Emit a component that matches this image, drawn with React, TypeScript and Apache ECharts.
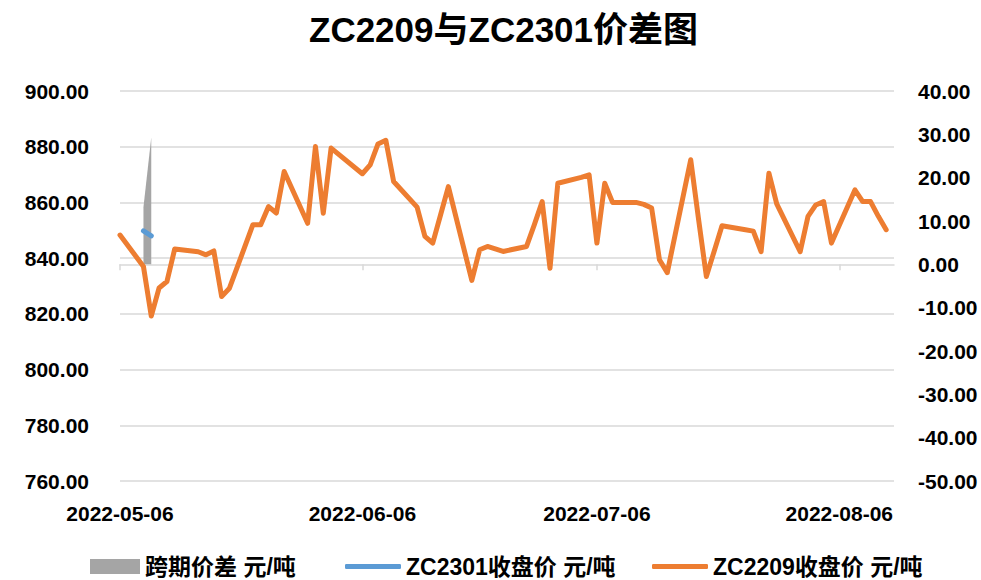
import React, { useEffect, useRef } from "react";
import * as echarts from "echarts";

// ---- data ----
const axisStart = "2022-05-06";
const axisEnd = "2022-08-13";
const xLabelDates = ["2022-05-06", "2022-06-06", "2022-07-06", "2022-08-06"];

const zc2209Dates = [
  "2022-05-06", "2022-05-09", "2022-05-10", "2022-05-11", "2022-05-12", "2022-05-13",
  "2022-05-16", "2022-05-17", "2022-05-18", "2022-05-19", "2022-05-20",
  "2022-05-23", "2022-05-24", "2022-05-25", "2022-05-26", "2022-05-27",
  "2022-05-30", "2022-05-31", "2022-06-01", "2022-06-02",
  "2022-06-06", "2022-06-07", "2022-06-08", "2022-06-09", "2022-06-10",
  "2022-06-13", "2022-06-14", "2022-06-15", "2022-06-16", "2022-06-17",
  "2022-06-20", "2022-06-21", "2022-06-22", "2022-06-23", "2022-06-24",
  "2022-06-27", "2022-06-28", "2022-06-29", "2022-06-30", "2022-07-01",
  "2022-07-04", "2022-07-05", "2022-07-06", "2022-07-07", "2022-07-08",
  "2022-07-11", "2022-07-12", "2022-07-13", "2022-07-14", "2022-07-15",
  "2022-07-18", "2022-07-19", "2022-07-20", "2022-07-21", "2022-07-22",
  "2022-07-25", "2022-07-26", "2022-07-27", "2022-07-28", "2022-07-29",
  "2022-08-01", "2022-08-02", "2022-08-03", "2022-08-04", "2022-08-05",
  "2022-08-08", "2022-08-09", "2022-08-10", "2022-08-11", "2022-08-12",
];
const zc2209Close = [
  848.3, 837.0, 819.2, 829.3, 831.6, 843.3,
  842.3, 841.2, 842.6, 826.2, 829.2,
  852.0, 852.0, 858.5, 856.2, 871.1,
  852.5, 880.1, 856.1, 879.5,
  870.3, 873.5, 881.0, 882.3, 867.5,
  858.3, 847.8, 845.4, 855.5, 865.7,
  832.0, 843.0, 844.2, 843.3, 842.4,
  844.2, 852.0, 860.3, 836.4, 866.9,
  869.0, 869.9, 845.4, 866.9, 860.0,
  860.0, 859.3, 858.0, 839.4, 834.8,
  875.3, 854.0, 833.4, 842.5, 851.6,
  850.2, 849.7, 842.3, 870.5, 859.5,
  842.3, 855.0, 859.1, 860.3, 845.4,
  864.5, 860.3, 860.3, 855.0, 850.2,
];

const zc2301Dates = ["2022-05-09", "2022-05-10"];
const zc2301Close = [849.8, 848.0];

const spreadDates = ["2022-05-09", "2022-05-10"];
const spreadValues = [13.2, 29.3];

const leftMin = 760, leftMax = 900, leftStep = 20;
const rightMin = -50, rightMax = 40, rightStep = 10;

const nameSpread = "跨期价差 元/吨";
const name2301 = "ZC2301收盘价 元/吨";
const name2209 = "ZC2209收盘价 元/吨";
const titleText = "ZC2209与ZC2301价差图";

// ---- helpers ----
function buildCalendar(start: string, end: string): string[] {
  const out: string[] = [];
  const d = new Date(start + "T00:00:00Z");
  const e = new Date(end + "T00:00:00Z");
  while (d.getTime() <= e.getTime()) {
    out.push(d.toISOString().slice(0, 10));
    d.setUTCDate(d.getUTCDate() + 1);
  }
  return out;
}
function alignTo(cats: string[], dates: string[], vals: number[]) {
  const m = new Map<string, number>();
  dates.forEach((d, i) => m.set(d, vals[i]));
  return cats.map((c) => (m.has(c) ? m.get(c)! : null));
}

const FONT = "'Liberation Sans', 'Noto Sans CJK SC', sans-serif";

export default function App() {
  const ref = useRef<HTMLDivElement>(null);
  useEffect(() => {
    if (!ref.current) return;
    const chart = echarts.init(ref.current, undefined, { renderer: "svg" });
    const cats = buildCalendar(axisStart, axisEnd);
    const showDate = (_i: number, v: string) => xLabelDates.includes(v);
    const legendText = { fontFamily: FONT, fontWeight: "bold" as const, fontSize: 23, color: "#000" };
    chart.setOption({
      animation: false,
      backgroundColor: "#fff",
      title: {
        text: titleText,
        left: 304,
        top: 7,
        textStyle: { fontFamily: FONT, fontWeight: "bold", fontSize: 35, color: "#000" },
      },
      grid: { left: 120, right: 87, top: 91, bottom: 99, containLabel: false },
      legend: [
        {
          data: [{ name: nameSpread, icon: "rect" }],
          left: 90, top: 555, padding: 0, itemWidth: 50, itemHeight: 15,
          selectedMode: false, textStyle: legendText,
        },
        {
          data: [{ name: name2301, icon: "roundRect" }],
          left: 345, top: 555, padding: 0, itemWidth: 56, itemHeight: 5,
          selectedMode: false, textStyle: legendText,
        },
        {
          data: [{ name: name2209, icon: "roundRect" }],
          left: 652, top: 555, padding: 0, itemWidth: 56, itemHeight: 5,
          selectedMode: false, textStyle: legendText,
        },
      ],
      xAxis: {
        type: "category",
        data: cats,
        boundaryGap: false,
        axisLine: { lineStyle: { color: "#d9d9d9", width: 1.5 } },
        axisTick: { show: true, interval: showDate, length: 6, lineStyle: { color: "#d9d9d9", width: 1.5 } },
        axisLabel: {
          interval: showDate,
          margin: 22,
          fontFamily: FONT, fontWeight: "bold", fontSize: 21, color: "#000",
        },
        splitLine: { show: false },
      },
      yAxis: [
        {
          type: "value",
          min: leftMin, max: leftMax, interval: leftStep,
          axisLine: { show: false }, axisTick: { show: false },
          axisLabel: {
            margin: 31,
            formatter: (v: number) => v.toFixed(2),
            fontFamily: FONT, fontWeight: "bold", fontSize: 21, color: "#000",
          },
          splitLine: { lineStyle: { color: "#d9d9d9", width: 1.5 } },
        },
        {
          type: "value",
          min: rightMin, max: rightMax, interval: rightStep,
          axisLine: { show: false }, axisTick: { show: false },
          axisLabel: {
            margin: 24,
            formatter: (v: number) => v.toFixed(2),
            fontFamily: FONT, fontWeight: "bold", fontSize: 21, color: "#000",
          },
          splitLine: { show: false },
        },
      ],
      series: [
        {
          name: nameSpread,
          type: "line",
          yAxisIndex: 1,
          data: alignTo(cats, spreadDates, spreadValues),
          symbol: "none",
          connectNulls: false,
          color: "#A5A5A5",
          itemStyle: { color: "#A5A5A5" },
          lineStyle: { width: 0, color: "#A5A5A5" },
          areaStyle: { color: "#A5A5A5", opacity: 1, origin: "auto" },
          z: 1,
        },
        {
          name: name2301,
          type: "line",
          yAxisIndex: 0,
          data: alignTo(cats, zc2301Dates, zc2301Close),
          symbol: "none",
          color: "#5B9BD5",
          itemStyle: { color: "#5B9BD5" },
          lineStyle: { width: 5, color: "#5B9BD5", cap: "round", join: "round" },
          z: 2,
        },
        {
          name: name2209,
          type: "line",
          yAxisIndex: 0,
          data: alignTo(cats, zc2209Dates, zc2209Close),
          symbol: "none",
          connectNulls: true,
          color: "#ED7D31",
          itemStyle: { color: "#ED7D31" },
          lineStyle: { width: 5, color: "#ED7D31", cap: "round", join: "round" },
          z: 3,
        },
      ],
    });
    return () => chart.dispose();
  }, []);
  return <div ref={ref} style={{ width: 981, height: 580, position: "fixed", left: 0, top: 0 }} />;
}
